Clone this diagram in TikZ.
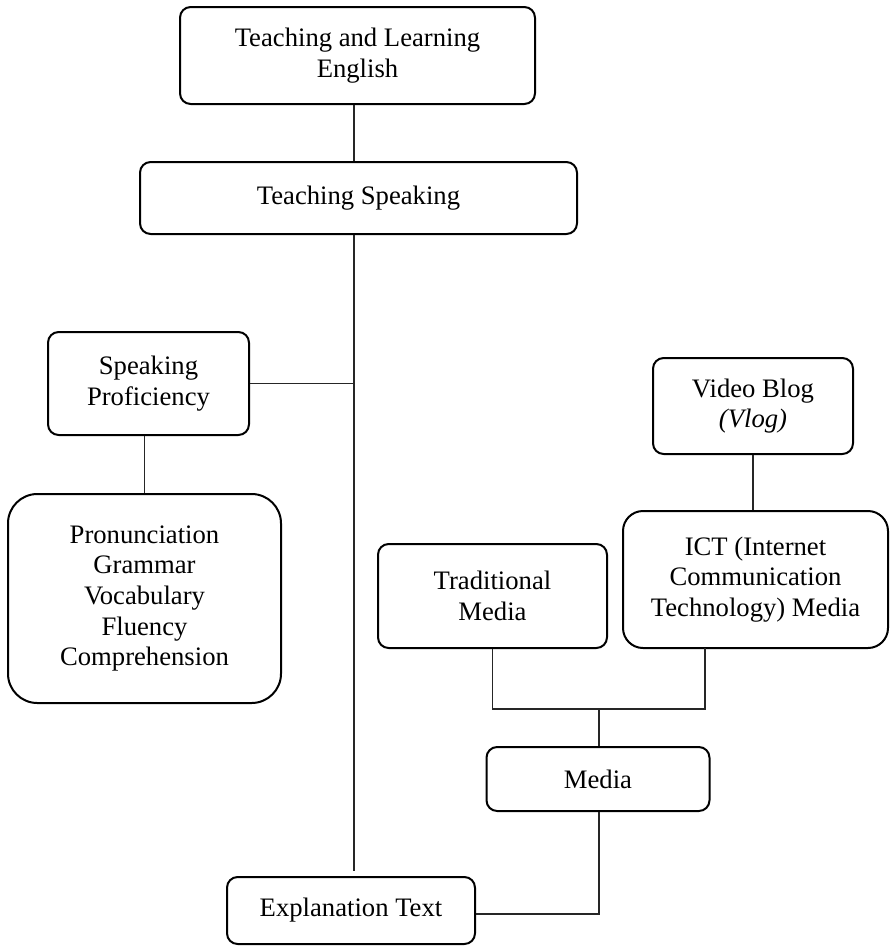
\documentclass[tikz,border=0pt]{standalone}
\usepackage{fontspec}
\setmainfont{Liberation Serif}
\usepackage{tikz}
\usetikzlibrary{calc}
\usetikzlibrary{positioning}
\tikzstyle{box} = [rectangle, draw = black, line width = 1.5pt, rounded corners = 8pt, align = center, inner sep = 2pt, font = \fontsize{20}{23}\selectfont]
\tikzstyle{link} = [-, draw = black!85, line width = 0.8pt]

\begin{document}
\begin{tikzpicture}[x = 0.75pt, y = -0.75pt]
\useasboundingbox (0, 0) rectangle (890, 947);
% boxes
\node [box, minimum width = 266.25pt, minimum height = 72.75pt] (tle) at (357.5, 55.5) {Teaching and Learning\\English};
\node [box, minimum width = 327.75pt, minimum height = 54pt] (tsp) at (358.5, 198) {Teaching Speaking};
\node [box, minimum width = 150.75pt, minimum height = 77.25pt] (prof) at (148.5, 383.5) {Speaking\\Proficiency};
\node [box, rounded corners = 22pt, minimum width = 204.75pt, minimum height = 156.75pt] (comp) at (144.5, 598.5) {Pronunciation\\Grammar\\Vocabulary\\Fluency\\Comprehension};
\node [box, minimum width = 150pt, minimum height = 72pt] (vlog) at (753, 406) {Video Blog\\\textit{(Vlog)}};
\node [box, rounded corners = 15pt, minimum width = 198.75pt, minimum height = 102.75pt] (ict) at (755.5, 579.5) {ICT (Internet\\Communication\\Technology) Media};
\node [box, minimum width = 171.75pt, minimum height = 78pt] (trad) at (492.5, 596) {Traditional\\Media};
\node [box, minimum width = 167.25pt, minimum height = 48pt] (media) at (598, 779) {Media};
\node [box, minimum width = 186pt, minimum height = 50.25pt] (expl) at (351, 910.5) {Explanation Text};
% joints
\coordinate (jn) at (354, 382);
\coordinate (mj) at (599, 709);
\coordinate (ictb) at (705, 648);
% connectors
\draw [link] (tle.south -| jn) to (tsp.north -| jn);
\draw [link] (tsp.south -| jn) to ($(expl.north -| jn) + (0, -5)$);
\draw [link] (prof.east) to (prof.east -| jn);
\draw [link] (prof.south -| comp.north) to (comp.north);
\draw [link] (vlog.south) to (vlog.south |- ict.north);
\draw [link] (trad.south) |- (ictb |- mj) to (ictb);
\draw [link] (mj) to (mj |- media.north);
\draw [link] (media.south -| mj) |- ($(expl.east) + (0, 3.5)$);
\end{tikzpicture}
\end{document}
